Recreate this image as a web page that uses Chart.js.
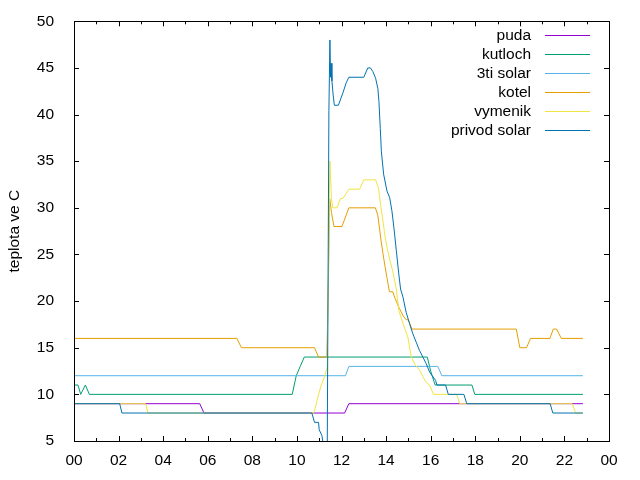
<!DOCTYPE html>
<html>
<head>
<meta charset="utf-8">
<script src="https://cdn.jsdelivr.net/npm/chart.js@4/dist/chart.umd.min.js"></script>
<style>
body{margin:0;background:#fff;}
</style>
</head>
<body>
<canvas id="graf" width="640" height="480"></canvas>
<script>

// [hodina, teplota]
let puda = [[0,9],[5.64,9],[5.83,8],[12.14,8],[12.33,9],[22.83,9]];
let kutloch = [[0,11],[0.18,11],[0.3,10],[0.51,11],[0.69,10],[9.79,10],[9.97,12],[10.15,13],[10.33,14],[15.85,14],[16.0,12.5],[16.2,11],[17.85,11],[17.98,10],[22.83,10]];
let solar3 = [[0,12],[12.18,12],[12.33,13],[16.32,13],[16.5,12],[22.83,12]];
let kotel = [[0,16],[7.31,16],[7.51,15],[10.79,15],[10.97,14],[11.17,14],[11.34,14],[11.37,17],[11.42,23],[11.47,31],[11.55,29.5],[11.66,28],[12.02,28],[12.33,30],[13.52,30],[13.63,29.2],[13.72,27.5],[13.78,26.4],[13.86,25.1],[13.96,23.6],[14.04,22.5],[14.15,21],[14.3,21],[14.4,20.3],[14.6,19.2],[14.77,18.4],[14.9,18],[15.0,18],[15.16,17],[19.84,17],[20.0,15],[20.3,15],[20.48,16],[21.35,16],[21.5,17],[21.65,17],[21.86,16],[22.83,16]];
let vymenik = [[0,9],[3.21,9],[3.32,8],[10.76,8],[10.85,8.8],[10.94,9.7],[11.09,11],[11.24,11.9],[11.36,13],[11.43,27],[11.48,35],[11.55,31],[11.61,30],[11.8,30],[11.95,31],[12.06,31],[12.2,31.5],[12.33,32],[12.81,32],[13.0,33],[13.53,33],[13.66,32.1],[13.75,30.4],[13.86,28.6],[13.96,26.8],[14.05,25.7],[14.16,24.5],[14.3,23.2],[14.46,21.3],[14.57,19],[14.76,17.6],[14.98,16.1],[15.13,14.0],[15.32,13.1],[15.5,12.6],[15.65,11.9],[15.8,11.3],[15.95,11.0],[16.13,10],[17.17,10],[17.3,9],[22.35,9],[22.5,8],[22.83,8]];
let privod = [[0,9],[2.05,9],[2.15,8],[10.67,8],[10.79,7],[10.97,7],[11.0,6.2],[11.12,5.6],[11.17,4.8],[11.27,-40],[11.435,40.4],[11.48,48],[11.51,44],[11.53,45.5],[11.57,43.6],[11.63,42],[11.68,41],[11.86,41],[12.06,42.3],[12.21,43.4],[12.33,44],[13.0,44],[13.18,45],[13.3,45],[13.41,44.6],[13.53,43.9],[13.63,42.8],[13.68,41.4],[13.74,38.5],[13.79,36],[13.89,33.6],[14.04,31.8],[14.16,31.1],[14.26,29.7],[14.35,27.9],[14.46,25.4],[14.57,22.9],[14.65,21.3],[14.76,20.4],[14.9,18.8],[15.05,17.6],[15.2,16.5],[15.35,15.6],[15.5,14.7],[15.65,14.0],[15.8,13.3],[15.95,12.4],[16.07,12],[16.22,11.5],[16.28,11],[16.67,11],[16.79,10],[17.49,10],[17.62,9],[21.36,9],[21.48,8],[22.83,8]];

let nazvy = ["puda","kutloch","3ti solar","kotel","vymenik","privod solar"];
let barvy = ["#9400d3","#009e73","#56b4e9","#e69f00","#f0e442","#0072b2"];
let serie = [puda,kutloch,solar3,kotel,vymenik,privod];

let pismo = "Liberation Sans";
let velikost = 15.5;

// ramecek, ticky dovnitr a legenda jako v gnuplotu
let ramecek = {
id:"ramecek",
afterDatasetsDraw(chart){
let ctx = chart.ctx;
let a = chart.chartArea;
let x = chart.scales.x;
let y = chart.scales.y;
ctx.save();
ctx.strokeStyle="#000";
ctx.lineWidth=1;
ctx.beginPath();
for(let h=x.min; h<=x.max; h++){
let px = Math.round(x.getPixelForValue(h))+0.5;
let d = h%2 ? 3 : 5;
ctx.moveTo(px,a.bottom); ctx.lineTo(px,a.bottom-d);
ctx.moveTo(px,a.top); ctx.lineTo(px,a.top+d);
}
y.ticks.forEach(t=>{
let py = Math.round(y.getPixelForValue(t.value))+0.5;
ctx.moveTo(a.left,py); ctx.lineTo(a.left+5,py);
ctx.moveTo(a.right,py); ctx.lineTo(a.right-5,py);
});
ctx.stroke();
ctx.strokeRect(Math.round(a.left)+0.5,Math.round(a.top)+0.5,Math.round(a.right-a.left),Math.round(a.bottom-a.top));

ctx.font = velikost+"px '"+pismo+"'";
ctx.textAlign="right";
ctx.textBaseline="middle";
chart.data.datasets.forEach((ds,i)=>{
let ry = Math.round(a.top+14+i*18.9)+0.5;
ctx.fillStyle="#000";
ctx.fillText(ds.label,a.right-78,ry);
ctx.strokeStyle=barvy[i];
ctx.beginPath();
ctx.moveTo(a.right-64,ry);
ctx.lineTo(a.right-19,ry);
ctx.stroke();
});
ctx.restore();
}
};

new Chart(document.getElementById("graf"),{
type:"line",
data:{
datasets: serie.map((s,i)=>({
label:nazvy[i],
data:s.map(p=>({x:p[0],y:p[1]})),
borderColor:barvy[i],
backgroundColor:barvy[i],
borderWidth:1,
pointRadius:0,
tension:0,
fill:false,
order:-i
}))
},
options:{
responsive:false,
animation:false,
layout:{padding:{left:0,right:31,top:19,bottom:0}},
plugins:{
legend:{display:false},
tooltip:{enabled:false}
},
scales:{
x:{
type:"linear",
min:0,
max:24,
grid:{display:false},
border:{display:false},
afterFit(s){s.height=39;},
ticks:{
stepSize:2,
padding:2,
color:"#000",
font:{family:pismo,size:velikost},
maxRotation:0,
callback:v=>String(v%24).padStart(2,"0")
}
},
y:{
min:5,
max:50,
grid:{display:false},
border:{display:false},
afterFit(s){s.width=74;},
ticks:{
stepSize:5,
padding:12,
color:"#000",
font:{family:pismo,size:velikost}
},
title:{
display:true,
text:"teplota ve C",
color:"#000",
font:{family:pismo,size:velikost},
padding:{top:5,bottom:0}
}
}
}
},
plugins:[ramecek]
});

</script>
</body>
</html>
